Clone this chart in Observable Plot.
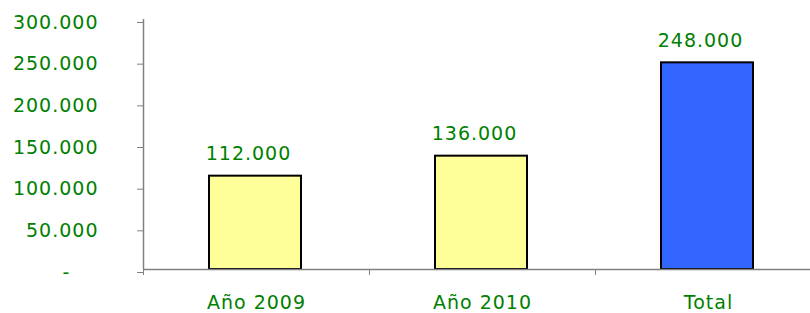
<!DOCTYPE html>
<html>
<head>
<meta charset="utf-8">
<script src="https://cdn.jsdelivr.net/npm/d3@7"></script>
<script src="https://cdn.jsdelivr.net/npm/@observablehq/plot@0.6"></script>
<style>
  html, body { margin: 0; padding: 0; background: #fff; }
  #chart svg { display: block; }
  #chart svg text { letter-spacing: 1px; }
  #chart [aria-label="y-axis tick"], #chart [aria-label="x-axis tick"] { stroke: #808080; }
</style>
</head>
<body>
<div id="chart"></div>
<script>
const categories = ["Año 2009", "Año 2010", "Total"];
const values = [112000, 136000, 248000];
const barColors = ["#FFFF99", "#FFFF99", "#3366FF"];
const yTicks = [0, 50000, 100000, 150000, 200000, 250000, 300000];

const green = "#008000";
const data = categories.map((c, i) => ({cat: c, i, value: values[i], color: barColors[i]}));
const fmt = d => d === 0 ? "-\u00a0\u00a0\u00a0\u00a0" : d3.format(",")(d).replace(/,/g, ".");

const chart = Plot.plot({
  width: 810,
  height: 313,
  marginLeft: 143,
  marginRight: 0,
  marginTop: 19,
  marginBottom: 44,
  style: {fontFamily: "DejaVu Sans", fontSize: "19px", color: green, background: "#fff"},
  x: {type: "linear", domain: [0, categories.length], range: [143, 821]},
  y: {domain: [0, 300000]},
  marks: [
    Plot.rectY(data, {x1: "i", x2: d => d.i + 1, y: "value", fill: "color", stroke: "#000", strokeWidth: 2, insetLeft: 66, insetRight: 68}),
    Plot.ruleY([0], {stroke: "#808080", strokeWidth: 1.5}),
    Plot.ruleX([0], {stroke: "#808080", strokeWidth: 1.5}),
    Plot.axisY({ticks: yTicks, tickSize: 6, tickPadding: 39, tickFormat: fmt, fill: green, dy: 3, fontSize: 19, label: null}),
    Plot.axisX({ticks: d3.range(categories.length + 1), tickSize: 6, tickFormat: () => "", label: null}),
    Plot.text(data, {x: d => d.i + 0.5, y: "value", text: d => fmt(d.value), fill: green, lineAnchor: "bottom", dy: -16, dx: -8, fontSize: 19}),
    Plot.text(data, {x: d => d.i + 0.5, y: 0, text: "cat", fill: green, lineAnchor: "bottom", dy: 39, fontSize: 19})
  ]
});
document.getElementById("chart").appendChild(chart);
</script>
</body>
</html>
